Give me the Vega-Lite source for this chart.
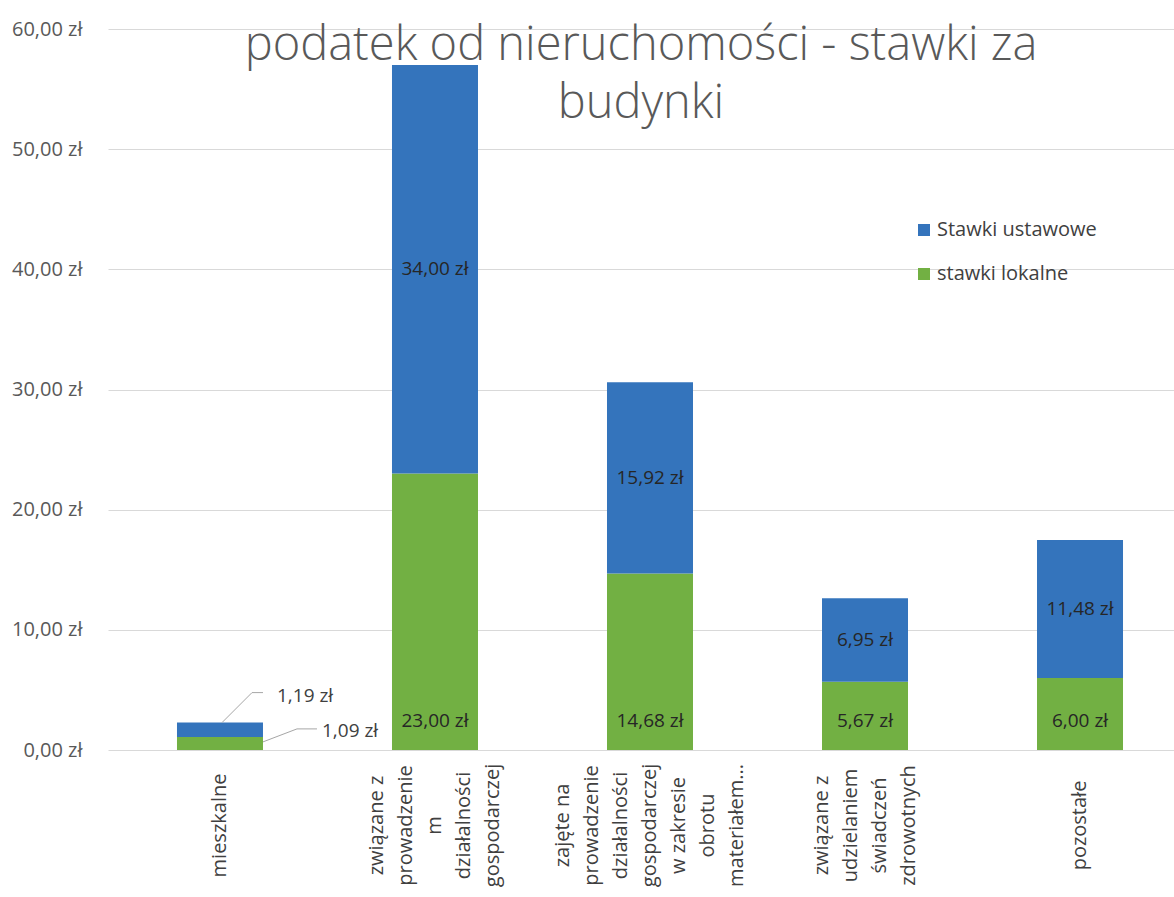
{
  "$schema": "https://vega.github.io/schema/vega-lite/v6.json",
  "autosize": "none",
  "width": 1066,
  "height": 721,
  "padding": {"left": 108, "top": 29, "right": 0, "bottom": 147},
  "background": "white",
  "title": {
    "text": ["podatek od nieruchomości - stawki za", "budynki"],
    "fontSize": 47,
    "font": "Open Sans",
    "fontWeight": 300,
    "color": "#595959",
    "lineHeight": 58,
    "anchor": "middle",
    "baseline": "alphabetic",
    "offset": -146
  },
  "config": {
    "font": "Open Sans",
    "view": {"stroke": null},
    "locale": {"number": {"decimal": ",", "thousands": " ", "grouping": [3], "currency": ["", " zł"]}}
  },
  "data": {
    "values": [
      {"category": "mieszkalne", "series": "stawki lokalne", "value": 1.09},
      {"category": "mieszkalne", "series": "Stawki ustawowe", "value": 1.19},
      {"category": "związane z|prowadzenie|m|działalności|gospodarczej", "series": "stawki lokalne", "value": 23.00},
      {"category": "związane z|prowadzenie|m|działalności|gospodarczej", "series": "Stawki ustawowe", "value": 34.00},
      {"category": "zajęte na|prowadzenie|działalności|gospodarczej|w zakresie|obrotu|materiałem...", "series": "stawki lokalne", "value": 14.68},
      {"category": "zajęte na|prowadzenie|działalności|gospodarczej|w zakresie|obrotu|materiałem...", "series": "Stawki ustawowe", "value": 15.92},
      {"category": "związane z|udzielaniem|świadczeń|zdrowotnych", "series": "stawki lokalne", "value": 5.67},
      {"category": "związane z|udzielaniem|świadczeń|zdrowotnych", "series": "Stawki ustawowe", "value": 6.95},
      {"category": "pozostałe", "series": "stawki lokalne", "value": 6.00},
      {"category": "pozostałe", "series": "Stawki ustawowe", "value": 11.48}
    ]
  },
  "encoding": {
    "x": {
      "field": "category",
      "type": "nominal",
      "sort": null,
      "scale": {"paddingInner": 0.6, "paddingOuter": 0.279, "align": 0.575},
      "axis": {
        "title": null,
        "labelExpr": "split(datum.value, '|')",
        "labelAngle": -90,
        "labelAlign": "center",
        "labelBaseline": "middle",
        "labelPadding": 75,
        "labelLineHeight": 29,
        "labelFontSize": 20,
        "labelColor": "#404040",
        "labelLimit": 0,
        "labelOffset": {
          "condition": [
            {"test": "length(split(datum.value, '|')) == 5", "value": -58},
            {"test": "length(split(datum.value, '|')) == 7", "value": -87},
            {"test": "length(split(datum.value, '|')) == 4", "value": -43.5}
          ],
          "value": 0
        },
        "ticks": false,
        "tickSize": 0,
        "domain": false
      }
    }
  },
  "layer": [
    {
      "mark": {"type": "bar"},
      "encoding": {
        "y": {
          "field": "value",
          "type": "quantitative",
          "aggregate": "sum",
          "stack": "zero",
          "scale": {"domain": [0, 60], "nice": false},
          "axis": {
            "title": null,
            "values": [0, 10, 20, 30, 40, 50, 60],
            "format": "$.2f",
            "labelFontSize": 20,
            "labelColor": "#595959",
            "labelPadding": 26,
            "ticks": false,
            "tickSize": 0,
            "domain": false,
            "gridColor": "#d9d9d9",
            "gridWidth": 1
          }
        },
        "color": {
          "field": "series",
          "type": "nominal",
          "scale": {"domain": ["Stawki ustawowe", "stawki lokalne"], "range": ["#3474BC", "#72B043"]},
          "legend": {
            "title": null,
            "orient": "none",
            "legendX": 806,
            "legendY": 191,
            "symbolType": "square",
            "symbolSize": 144,
            "symbolStrokeWidth": 0,
            "labelFontSize": 20,
            "labelColor": "#404040",
            "labelOffset": 3,
            "rowPadding": 24
          }
        },
        "order": {"field": "series", "sort": "descending"}
      }
    },
    {
      "transform": [
        {"stack": "value", "groupby": ["category"], "sort": [{"field": "series", "order": "descending"}], "as": ["v0", "v1"]},
        {"filter": "datum.series == 'Stawki ustawowe' && datum.category != 'mieszkalne'"},
        {"fold": ["v0", "v1"], "as": ["k", "pos"]}
      ],
      "mark": {"type": "text", "fontSize": 19, "color": "#262626", "baseline": "middle", "align": "center"},
      "encoding": {
        "y": {"field": "pos", "type": "quantitative", "aggregate": "mean"},
        "text": {"field": "value", "type": "quantitative", "format": "$.2f"}
      }
    },
    {
      "transform": [
        {"filter": "datum.series == 'stawki lokalne' && datum.category != 'mieszkalne'"}
      ],
      "mark": {"type": "text", "fontSize": 19, "color": "#262626", "baseline": "middle", "align": "center", "dy": -29},
      "encoding": {
        "y": {"datum": 0, "type": "quantitative"},
        "text": {"field": "value", "type": "quantitative", "format": "$.2f"}
      }
    },
    {
      "transform": [
        {"stack": "value", "groupby": ["category"], "sort": [{"field": "series", "order": "descending"}], "as": ["v0", "v1"]},
        {"filter": "datum.category == 'mieszkalne' && datum.series == 'Stawki ustawowe'"}
      ],
      "layer": [
        {
          "mark": {"type": "text", "fontSize": 19, "color": "#404040", "baseline": "middle", "align": "left", "dx": 57, "dy": -27},
          "encoding": {
            "y": {"field": "v1", "type": "quantitative"},
            "text": {"field": "value", "type": "quantitative", "format": "$.2f"}
          }
        },
        {
          "mark": {"type": "rule", "color": "#a6a6a6", "strokeWidth": 1, "xOffset": 2, "x2Offset": 32, "yOffset": 0, "y2Offset": -30},
          "encoding": {
            "x2": {"field": "category"},
            "y": {"field": "v1", "type": "quantitative"},
            "y2": {"field": "v1"}
          }
        },
        {
          "mark": {"type": "rule", "color": "#a6a6a6", "strokeWidth": 1, "xOffset": 32, "x2Offset": 43, "yOffset": -30, "y2Offset": -30},
          "encoding": {
            "x2": {"field": "category"},
            "y": {"field": "v1", "type": "quantitative"},
            "y2": {"field": "v1"}
          }
        }
      ]
    },
    {
      "transform": [
        {"filter": "datum.category == 'mieszkalne' && datum.series == 'stawki lokalne'"}
      ],
      "layer": [
        {
          "mark": {"type": "text", "fontSize": 19, "color": "#404040", "baseline": "middle", "align": "left", "dx": 102, "dy": -6},
          "encoding": {
            "y": {"field": "value", "type": "quantitative"},
            "text": {"field": "value", "type": "quantitative", "format": "$.2f"}
          }
        },
        {
          "mark": {"type": "rule", "color": "#a6a6a6", "strokeWidth": 1, "xOffset": 43, "x2Offset": 77, "yOffset": 5, "y2Offset": -8},
          "encoding": {
            "x2": {"field": "category"},
            "y": {"field": "value", "type": "quantitative"},
            "y2": {"field": "value"}
          }
        },
        {
          "mark": {"type": "rule", "color": "#a6a6a6", "strokeWidth": 1, "xOffset": 77, "x2Offset": 97, "yOffset": -8, "y2Offset": -8},
          "encoding": {
            "x2": {"field": "category"},
            "y": {"field": "value", "type": "quantitative"},
            "y2": {"field": "value"}
          }
        }
      ]
    }
  ]
}
